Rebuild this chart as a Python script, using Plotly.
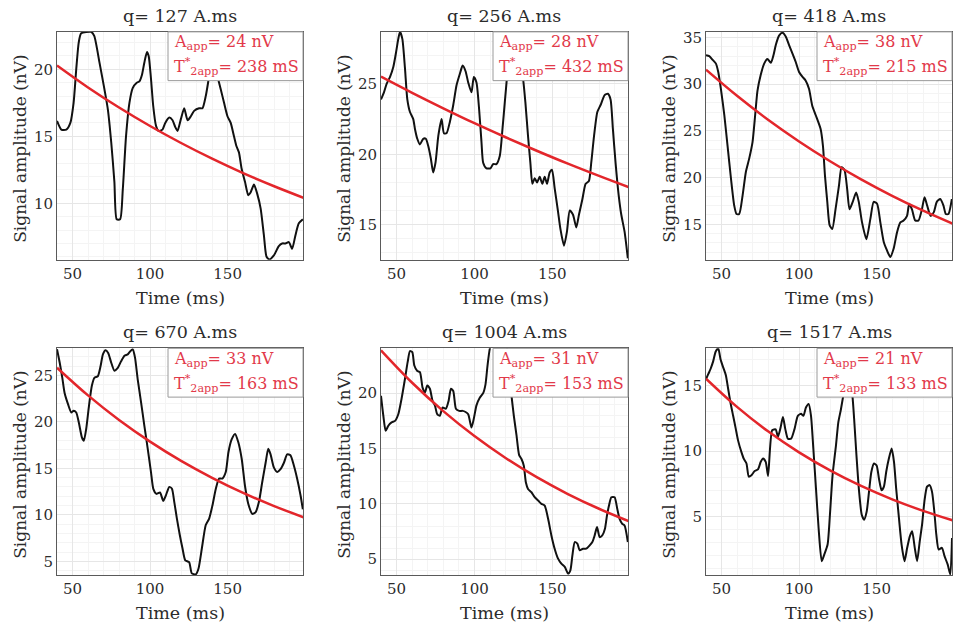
import plotly.graph_objects as go

# ---------------- data ----------------
TITLES = ["q= 127 A.ms", "q= 256 A.ms", "q= 418 A.ms",
          "q= 670 A.ms", "q= 1004 A.ms", "q= 1517 A.ms"]
A_APP = [24, 28, 38, 33, 31, 21]
T2_APP = [238, 432, 215, 163, 153, 133]

# panel 1
T1 = [40, 42.8, 46, 48.6, 50.7, 52.4, 54, 55.6, 62, 64, 67.4, 70.6, 72.8, 75, 77, 78.5, 80.7, 82.4, 84.5,
      86.7, 88.8, 91.4, 93.1, 94.8, 96.3, 98, 99.1, 100.6, 102, 103.8, 105.5, 108, 109.8, 112.4, 114.5,
      116.2, 117.7, 119.9, 122, 124.2, 126.3, 128.4, 131.6, 133.8, 135.9, 137.4, 138.7, 141, 143.4,
      145.6, 147.7, 149.9, 152, 154.1, 155.6, 157.3, 159, 161.2, 163.3, 164.8, 167, 169.1, 171.3, 173.4,
      175.1, 177, 179.8, 183, 185.2, 187.3, 189.5, 191.6, 193.7, 195.9, 198.5]
S1 = [16.15, 15.5, 15.5, 16.0, 17.5, 20.0, 22.0, 22.7, 22.8, 22.5, 20.5, 18.5, 17.0, 14.5, 11.6, 8.8, 8.8, 11.0,
      15.0, 17.5, 18.6, 19.0, 19.1, 19.6, 20.5, 21.3, 21.0, 19.3, 17.3, 15.8, 15.4, 15.5, 16.0, 16.4, 16.2,
      15.7, 15.4, 16.3, 17.1, 16.2, 16.5, 16.9, 17.1, 17.1, 18.0, 19.0, 20.0, 20.6, 19.5, 18.5, 17.5, 16.5,
      16.0, 15.0, 14.3, 13.8, 12.6, 11.6, 10.6, 10.8, 11.4, 10.7, 9.6, 7.6, 6.0, 5.8, 6.1, 6.8, 7.0, 7.0,
      7.1, 6.6, 7.6, 8.5, 8.8]

# panel 2
T2 = [40, 41.9, 43.6, 45.8, 47.9, 49.6, 51.1, 52.2, 53.7, 55.4, 56.9, 58.6, 60.7, 61.8, 63.3, 65, 67.1, 68.8,
      70.3, 72, 73.5, 75, 76.8, 78.9, 80.4, 82.1, 84.2, 86.4, 88.5, 90.6, 92.4, 94.3, 96, 98.1, 99.6, 101.3,
      103, 104.5, 105.6, 107.7, 110.3, 112, 114.1, 116.3, 118, 119.5, 121, 122.3, 124, 127, 129, 131.2,
      132.7, 134.4, 135.9, 137.2, 138.7, 140.2, 141.9, 143.6, 145.1, 146.6, 148.3, 149.8, 151.5, 153.7,
      155.2, 157.5, 159.4, 161.2, 163.3, 165.4, 167.1, 169.3, 171.4, 173.5, 175, 176.8, 178.9, 181, 183.6,
      185.7, 187.4, 188.9, 190.6, 192.6, 194.3, 196.4, 198.5]
S2 = [23.9, 24.4, 25.0, 25.5, 26.2, 27.2, 28.2, 28.7, 28.2, 26.1, 23.9, 23.0, 22.5, 21.8, 21.1, 20.7, 21.1, 21.1,
      20.6, 19.7, 18.7, 19.4, 21.3, 22.5, 21.5, 21.5, 22.3, 23.5, 24.9, 25.7, 26.3, 25.9, 25.1, 24.4, 25.5,
      25.1, 23.2, 20.9, 19.4, 19.0, 19.0, 19.3, 19.3, 19.9, 21.8, 23.7, 25.6, 27.2, 28.0, 28.3, 27.0, 25.4,
      23.7, 21.3, 19.4, 17.9, 18.3, 18.0, 18.4, 17.9, 18.4, 17.9, 18.7, 18.9, 17.6, 15.9, 14.7, 13.5, 14.5,
      16.0, 15.7, 14.8, 15.7, 16.8, 17.9, 18.1, 19.4, 21.3, 23.0, 23.5, 24.2, 24.3, 23.9, 21.8, 19.4, 17.1,
      15.7, 14.5, 12.6]

# panel 3
T3 = [40, 42.1, 44.3, 46.4, 47.9, 49.6, 51.8, 53.9, 56.1, 58.2, 59.7, 61.4, 63.6, 65.7, 67.8, 70, 71.7, 73.2,
      75.3, 77.5, 79.6, 81.8, 83.5, 85, 87.1, 89.3, 91.4, 93.5, 95.7, 97.8, 100, 102.1, 104.2, 106.4, 108.5,
      110.7, 113.9, 115.4, 116.7, 118.2, 119.7, 121.4, 123.5, 125.7, 127.4, 129.3, 131, 132.5, 134.6, 136.8,
      138.5, 140.6, 143.4, 146, 148.1, 150.3, 152.4, 154.6, 156.7, 158.8, 161, 163.1, 165.3, 167.4, 169.6,
      171, 172.8, 174.9, 177, 179.2, 180.9, 182.6, 184.8, 186.9, 188.8, 191, 193.1, 194.6, 196.3, 198.5]
S3 = [33.1, 33.0, 32.6, 32.2, 31.3, 29.5, 26.7, 23.4, 19.9, 17.0, 16.1, 16.1, 18.1, 20.6, 22.0, 23.8, 26.7, 29.3,
      31.0, 32.2, 32.7, 32.3, 33.1, 34.2, 35.2, 35.5, 35.1, 34.2, 33.3, 32.4, 31.3, 30.8, 30.4, 29.5, 27.7,
      26.7, 25.2, 23.4, 20.2, 17.4, 14.9, 14.5, 16.6, 19.1, 21.1, 20.8, 18.8, 16.6, 17.4, 18.4, 17.4, 15.2,
      13.4, 15.6, 17.4, 17.2, 15.2, 13.1, 12.2, 11.5, 12.4, 14.1, 15.2, 15.4, 15.9, 17.2, 16.6, 15.4, 15.4,
      16.6, 17.9, 17.0, 15.9, 16.3, 17.4, 17.7, 17.0, 16.1, 16.1, 17.7]

# panel 4
T4 = [40, 41.7, 43.4, 44.9, 47.1, 49.2, 50.7, 52.4, 54.1, 56.1, 57.3, 58.8, 60.6, 62.5, 64.2, 66.3, 68.1, 69.6,
      71.3, 73, 74.9, 77, 79.2, 81.3, 83.5, 85.6, 87.3, 88.8, 90.3, 92, 94.2, 96.3, 98.5, 100.6, 102.1,
      104.2, 106.4, 108.5, 110.2, 112.4, 114.1, 115.6, 117.3, 119.2, 120.9, 122.7, 125.2, 126.9, 129.5,
      131.2, 133.4, 135.9, 138.1, 140.2, 142.4, 144.5, 146.6, 148.8, 150.5, 152.6, 154.8, 156.9, 159.1,
      161.2, 163.3, 165.9, 168.1, 170.2, 172.3, 174.5, 176.2, 177.7, 179.8, 182, 184.1, 186.3, 188.4,
      190.5, 192.7, 194.8, 197, 198.5]
S4 = [27.8, 26.4, 24.75, 23.1, 21.9, 21.0, 21.2, 21.0, 19.9, 18.3, 17.96, 19.2, 21.7, 23.9, 24.75, 24.9, 26.0,
      27.25, 27.7, 27.4, 26.4, 25.5, 25.8, 26.5, 27.1, 27.25, 27.6, 27.8, 26.9, 24.6, 22.1, 19.6, 17.1, 14.6,
      12.8, 12.25, 12.4, 11.5, 12.1, 13.0, 12.8, 11.4, 9.6, 7.8, 6.4, 5.1, 4.9, 3.7, 3.6, 4.2, 6.4, 8.9, 9.6,
      11.0, 12.8, 13.9, 13.9, 14.6, 16.7, 18.1, 18.7, 17.8, 16.0, 13.1, 11.2, 10.1, 10.3, 11.4, 13.5, 15.6,
      17.1, 16.5, 15.1, 14.6, 14.9, 15.6, 16.5, 16.4, 15.3, 13.9, 12.1, 10.6]

# panel 5
T5 = [40, 41.5, 43, 44.7, 46.8, 49, 51.1, 53.2, 55.4, 57.1, 58.6, 60.1, 61.4, 63.3, 65, 66.7, 68.2, 69.7, 71.4,
      73.1, 74.6, 76.1, 77.8, 79.5, 81.7, 83.4, 84.9, 86.4, 88.1, 90.2, 92.4, 94.3, 96, 98.1, 99.6, 101.3,
      103.5, 105.6, 107.1, 108.4, 109.9, 113, 117, 121, 123.8, 125.3, 127, 128.7, 130.2, 131.7, 133, 134.4,
      136.6, 138.7, 140.9, 143, 145.1, 147.3, 149.4, 151.5, 153.7, 155.8, 158, 160.1, 161.6, 162.9, 164.4,
      166.1, 167.6, 169.7, 171.8, 174, 175.7, 177.2, 178.7, 180.4, 182.1, 183.8, 185.1, 186.4, 187.9, 190,
      191.7, 193.2, 194.9, 196.4, 198.5]
S5 = [19.76, 17.96, 16.6, 17.06, 17.36, 17.5, 18.1, 19.5, 21.3, 22.8, 23.8, 23.7, 22.5, 22.0, 21.9, 20.5, 20.06,
      20.7, 20.4, 19.3, 18.9, 18.1, 17.96, 18.7, 18.6, 19.3, 20.4, 20.2, 18.6, 18.4, 18.4, 18.3, 18.1, 16.9,
      17.7, 18.9, 19.6, 20.0, 20.8, 22.5, 24.05, 25.5, 26.0, 24.0, 19.76, 17.96, 16.2, 14.4, 14.05, 13.45,
      11.95, 11.35, 11.05, 10.6, 10.3, 10.0, 9.85, 8.65, 7.15, 5.95, 5.05, 4.6, 4.3, 3.7, 4.0, 5.35, 6.55,
      6.4, 5.8, 5.95, 5.95, 6.25, 6.55, 7.15, 7.9, 7.0, 7.15, 7.75, 8.95, 9.85, 10.6, 10.6, 9.55, 8.65, 8.2,
      8.05, 6.55]

# panel 6
T6 = [40, 41.5, 43, 44.7, 46.2, 47.9, 49.4, 51.1, 52.8, 54.3, 55.8, 57.5, 59.2, 60.7, 62.9, 64.4, 66.1, 67.6,
      69.3, 71.4, 73.5, 75.3, 76.8, 78.5, 80, 82.7, 84.9, 86.4, 87.9, 89.6, 91.1, 92.8, 94.9, 97.1, 99.2,
      101.3, 102.8, 104.5, 106.2, 107.7, 109.2, 110.9, 112.6, 114.6, 116.3, 118.4, 119.9, 121.6, 123.8,
      125.3, 127, 128.5, 129.7, 132, 134.4, 135.5, 137, 138.7, 140.4, 141.9, 143.6, 145.1, 146.6, 148.3,
      150, 151.5, 153.2, 154.7, 156.2, 157.9, 159.7, 161.2, 162.6, 164.4, 166.1, 168, 169.7, 171.4, 172.9,
      174.6, 176.1, 177.8, 179.3, 180.8, 182.5, 184.2, 185.7, 187.2, 188.5, 190, 192.1, 193.8, 195.8,
      197.5, 198.6]
S6 = [15.5, 15.9, 16.3, 16.9, 17.6, 17.86, 17.0, 16.4, 15.8, 14.75, 13.7, 12.7, 11.7, 10.8, 9.9, 9.4, 9.05,
      8.04, 8.16, 8.47, 8.6, 9.18, 9.43, 9.18, 8.1, 11.6, 11.66, 11.1, 11.7, 12.6, 11.7, 10.95, 10.95, 11.7,
      12.7, 12.85, 12.7, 13.35, 13.6, 12.7, 10.2, 7.15, 4.1, 1.58, 2.1, 2.85, 5.13, 8.16, 10.44, 12.2, 13.2,
      14.24, 15.0, 16.4, 14.24, 12.47, 9.68, 6.9, 5.13, 4.75, 5.38, 6.9, 8.4, 9.05, 8.9, 7.9, 7.0, 7.28,
      8.42, 9.43, 10.2, 9.18, 7.15, 4.87, 2.85, 1.58, 2.6, 3.48, 3.86, 2.6, 1.58, 3.1, 4.37, 6.14, 7.28, 7.4,
      6.9, 5.38, 3.6, 2.47, 2.6, 1.96, 1.33, 0.57, 3.35]

SIG_T = [T1, T2, T3, T4, T5, T6]
SIG_Y = [S1, S2, S3, S4, S5, S6]

# fitted decay curves
FIT_T = [40, 60, 80, 100, 120, 140, 160, 180, 200]
FIT1 = [20.29, 18.65, 17.15, 15.77, 14.50, 13.33, 12.25, 11.27, 10.36]
FIT2 = [25.52, 24.37, 23.27, 22.21, 21.21, 20.25, 19.33, 18.46, 17.62]
FIT3 = [31.55, 28.75, 26.19, 23.87, 21.75, 19.81, 18.05, 16.45, 14.99]
FIT4 = [25.82, 22.84, 20.20, 17.87, 15.80, 13.98, 12.36, 10.94, 9.67]
FIT5 = [23.87, 20.94, 18.38, 16.13, 14.15, 12.41, 10.89, 9.56, 8.39]
FIT6 = [15.54, 13.38, 11.51, 9.90, 8.52, 7.33, 6.31, 5.43, 4.67]
FITS = [FIT1, FIT2, FIT3, FIT4, FIT5, FIT6]

Y_RANGES = [[5.78, 22.8], [12.5, 28.7], [11.2, 35.6], [3.5, 27.9], [3.55, 24.05], [0.5, 17.86]]
X_RANGE = [40, 198.6]
X_TICKS = [50, 100, 150]

# ---------------- layout geometry ----------------
W, H = 959, 630
COLS = [(57, 303), (381, 628), (706, 952)]
ROWS = [(29, 258), (347, 575)]
BOX_W, BOX_H = 135, 49
FONT = "DejaVu Serif"
TXT = "#2b2b2b"
RED_TXT = "#e2394a"
RED_LINE = "#e3262b"

fig = go.Figure()
annotations = []
shapes = []
for i in range(6):
    r, c = divmod(i, 3)
    x0, x1 = COLS[c]
    yt, yb = ROWS[r]
    pw, ph = x1 - x0, yb - yt
    xd = [x0 / W, x1 / W]
    yd = [1 - yb / H, 1 - yt / H]
    n = "" if i == 0 else str(i + 1)
    xa, ya = "x" + n, "y" + n

    fig.add_trace(go.Scatter(x=SIG_T[i], y=SIG_Y[i], mode="lines", xaxis=xa, yaxis=ya,
                             line=dict(color="#111111", width=2, shape="spline", smoothing=0.6),
                             showlegend=False, hoverinfo="skip"))
    fig.add_trace(go.Scatter(x=FIT_T, y=FITS[i], mode="lines", xaxis=xa, yaxis=ya,
                             line=dict(color=RED_LINE, width=2.5, shape="spline"),
                             showlegend=False, hoverinfo="skip"))

    axcommon = dict(showline=True, linecolor="#5a5a5a", linewidth=1, mirror=True,
                    ticks="", showgrid=True, gridcolor="#e6e6e6", gridwidth=1, zeroline=False,
                    tickfont=dict(family=FONT, size=15, color=TXT))
    fig.update_layout(**{
        "xaxis" + n: dict(domain=xd, anchor=ya, range=X_RANGE, tickvals=X_TICKS,
                          minor=dict(showgrid=True, gridcolor="#f4f4f4", dtick=10, tick0=0),
                          **axcommon),
        "yaxis" + n: dict(domain=yd, anchor=xa, range=Y_RANGES[i], dtick=5, tick0=0,
                          minor=dict(showgrid=True, gridcolor="#f4f4f4", dtick=1, tick0=0),
                          **axcommon),
    })

    # info box (white rectangle at top right of the axes)
    shapes.append(dict(type="rect", xref=xa + " domain", yref=ya + " domain",
                       x0=1 - BOX_W / pw, x1=1, y0=1 - BOX_H / ph, y1=1,
                       fillcolor="white", line=dict(color="#9a9a9a", width=1), layer="above"))
    annotations.append(dict(
        xref=xa + " domain", yref=ya + " domain", x=1 - (BOX_W - 4) / pw, y=1 - 11 / ph,
        xanchor="left", yanchor="middle", showarrow=False,
        text="A<sub>app</sub>= %d nV" % A_APP[i],
        font=dict(family=FONT, size=16, color=RED_TXT)))
    annotations.append(dict(
        xref=xa + " domain", yref=ya + " domain", x=1 - (BOX_W - 4) / pw, y=1 - 35 / ph,
        xanchor="left", yanchor="middle", showarrow=False,
        text="T<sup>*</sup><sub>2app</sub>= %d mS" % T2_APP[i],
        font=dict(family=FONT, size=16, color=RED_TXT)))
    # subplot title
    annotations.append(dict(xref="paper", yref="paper", x=(x0 + x1) / 2 / W, y=1 - (yt - 16) / H,
                            text=TITLES[i], showarrow=False, xanchor="center", yanchor="middle",
                            font=dict(family=FONT, size=17.5, color=TXT)))
    # x title
    annotations.append(dict(xref="paper", yref="paper", x=(x0 + x1) / 2 / W, y=1 - (yb + 38) / H,
                            text="Time (ms)", showarrow=False, xanchor="center", yanchor="middle",
                            font=dict(family=FONT, size=17.5, color=TXT)))
    # y title
    annotations.append(dict(xref="paper", yref="paper", x=(x0 - 37) / W, y=1 - ((yt + yb) / 2 + 3) / H,
                            text="Signal amplitude (nV)", showarrow=False, textangle=-90,
                            xanchor="center", yanchor="middle",
                            font=dict(family=FONT, size=17, color=TXT)))

fig.update_layout(width=W, height=H, margin=dict(l=0, r=0, t=0, b=0),
                  paper_bgcolor="white", plot_bgcolor="white",
                  annotations=annotations, shapes=shapes)
fig.write_html("out.html")
